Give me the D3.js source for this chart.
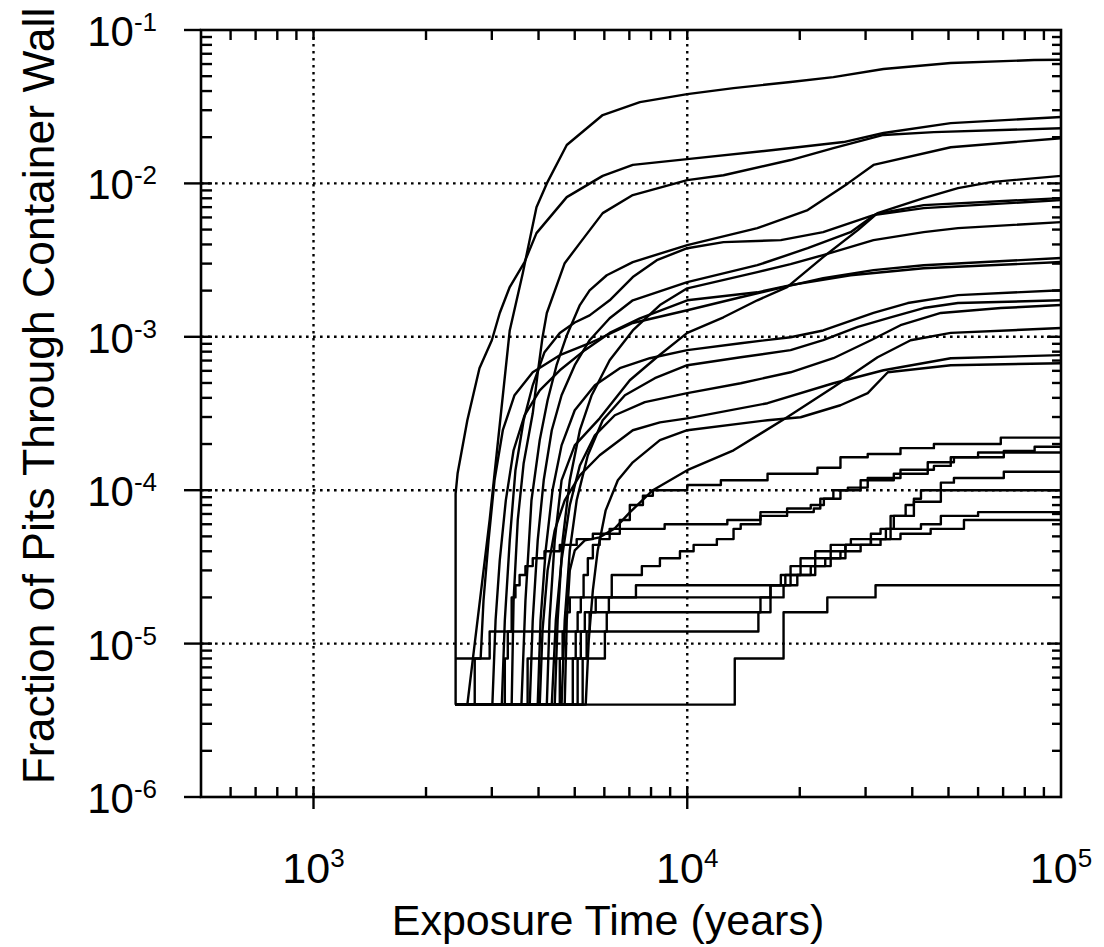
<!DOCTYPE html>
<html><head><meta charset="utf-8">
<script src="https://cdn.jsdelivr.net/npm/d3@7"></script>
<style>html,body{margin:0;padding:0;background:#fff}svg{display:block}</style>
</head><body>
<script>
// ---------- data (years, fraction) ----------
const xDomain = [500, 1e5];
const yDomain = [1e-6, 1e-1];
const xTickExps = [3, 4, 5];
const yTickExps = [-1, -2, -3, -4, -5, -6];
const xGrid = [1e3, 1e4];
const yGrid = [1e-2, 1e-3, 1e-4, 1e-5];
const xTitle = "Exposure Time (years)";
const yTitle = "Fraction of Pits Through Container Wall";

// smooth (many-pit) realizations
const c1 = [[2400,4e-6],[2580,4e-6],[2960,6.4e-5],[3350,1.1e-3],[3630,2.6e-3],[3950,7.0e-3],[4210,1.0e-2],[4760,1.78e-2],[5940,2.79e-2],[7470,3.39e-2],[10000,3.82e-2],[13300,4.18e-2],[18900,4.58e-2],[24600,4.93e-2],[33500,5.57e-2],[50700,6.09e-2],[84700,6.37e-2],[100000,6.4e-2]];
const c2 = [[2400,4e-6],[2400,9.5e-5],[2430,1.29e-4],[2580,2.86e-4],[2780,6.24e-4],[3000,9.5e-4],[3150,1.43e-3],[3350,2.11e-3],[3670,3.07e-3],[3950,4.74e-3],[4760,8.14e-3],[5940,1.12e-2],[7150,1.32e-2],[10000,1.44e-2],[17000,1.65e-2],[26200,1.86e-2],[33500,2.13e-2],[50700,2.47e-2],[100000,2.71e-2]];
const c3 = [[2400,4e-6],[3390,4e-6],[3430,1.9e-5],[3520,6.4e-5],[3650,1.5e-4],[3860,3.17e-4],[3980,5.79e-4],[4100,9.94e-4],[4210,1.43e-3],[4700,3.02e-3],[5160,4.08e-3],[5940,6.4e-3],[7150,8.39e-3],[10000,1.05e-2],[12500,1.13e-2],[18900,1.42e-2],[24600,1.70e-2],[33500,2.07e-2],[45700,2.16e-2],[100000,2.29e-2]];
const c4 = [[2400,4e-6],[3600,4e-6],[3690,1.9e-5],[3830,8.6e-5],[4030,2.12e-4],[4230,3.86e-4],[4470,6.53e-4],[4760,1.02e-3],[5160,1.61e-3],[5480,2.01e-3],[6090,2.52e-3],[7150,3.07e-3],[10000,3.96e-3],[15400,5.11e-3],[21000,6.7e-3],[26900,1.0e-2],[31500,1.32e-2],[50700,1.72e-2],[100000,1.97e-2]];
const c5 = [[2400,4e-6],[4210,4e-6],[4280,1.42e-5],[4420,4.71e-5],[4610,1.16e-4],[5000,1.96e-4],[5830,2.94e-4],[7020,5.21e-4],[8290,7.36e-4],[10000,1.06e-3],[12500,1.34e-3],[15400,1.73e-3],[18500,2.11e-3],[23100,3.31e-3],[28600,4.96e-3],[32300,6.4e-3],[42900,8.02e-3],[53000,9.32e-3],[64900,1.02e-2],[100000,1.12e-2]];
const c6 = [[2400,4e-6],[3190,4e-6],[3250,1.42e-5],[3350,4.71e-5],[3470,1.35e-4],[3650,2.86e-4],[3860,4.83e-4],[4150,7.94e-4],[4560,1.06e-3],[5000,1.24e-3],[5480,1.38e-3],[6200,1.73e-3],[7150,2.45e-3],[8290,3.16e-3],[10000,3.78e-3],[12500,4.14e-3],[17800,4.27e-3],[23100,4.81e-3],[31500,6.21e-3],[42900,6.9e-3],[100000,7.78e-3]];
const c7 = [[2400,4e-6],[3790,4e-6],[3860,1.42e-5],[3980,4.71e-5],[4130,1.16e-4],[4340,2.46e-4],[4610,4.16e-4],[5000,6.53e-4],[5480,9.5e-4],[6200,1.32e-3],[7150,1.73e-3],[10000,2.27e-3],[15400,2.93e-3],[21000,3.78e-3],[27350,4.81e-3],[31900,6.3e-3],[42900,7.22e-3],[100000,8.02e-3]];
const c8 = [[2400,4e-6],[4420,4e-6],[4500,1.42e-5],[4640,4.71e-5],[4850,1.16e-4],[5160,2.46e-4],[5550,4.16e-4],[6200,7.04e-4],[7150,1.1e-3],[8450,1.61e-3],[10000,2.07e-3],[15400,2.64e-3],[18900,2.98e-3],[23100,3.41e-3],[31500,4.27e-3],[42900,4.81e-3],[53000,5.11e-3],[100000,5.59e-3]];
const c9 = [[2400,8e-6],[2800,8e-6],[2850,1.91e-5],[2940,4.71e-5],[3050,1.16e-4],[3210,2.46e-4],[3450,4.16e-4],[3860,5.87e-4],[4560,7.59e-4],[5480,9.08e-4],[7150,1.23e-3],[10000,1.49e-3],[13900,1.81e-3],[18100,2.11e-3],[23100,2.41e-3],[31500,2.72e-3],[42900,2.93e-3],[100000,3.26e-3]];
const c10 = [[2400,4e-6],[3010,4e-6],[3070,1.42e-5],[3150,3.49e-5],[3270,8.59e-5],[3430,1.82e-4],[3670,3.08e-4],[4030,4.48e-4],[4560,6.05e-4],[5320,8.18e-4],[6200,1.06e-3],[7470,1.32e-3],[10000,1.73e-3],[15400,1.95e-3],[18900,2.17e-3],[27350,2.52e-3],[42900,2.8e-3],[100000,3.07e-3]];
const c11 = [[2400,4e-6],[3980,4e-6],[4050,1.42e-5],[4180,4.05e-5],[4360,1.0e-4],[4610,1.96e-4],[5000,3.32e-4],[5660,4.83e-4],[6600,6.24e-4],[7940,7.25e-4],[10000,8.18e-4],[13900,9.08e-4],[18900,9.94e-4],[23100,1.1e-3],[31500,1.43e-3],[38900,1.66e-3],[53000,1.87e-3],[100000,2.01e-3]];
const c12 = [[2400,4e-6],[4610,4e-6],[4700,1.42e-5],[4850,4.05e-5],[5060,8.59e-5],[5420,1.69e-4],[5940,2.86e-4],[6810,4.16e-4],[8190,5.37e-4],[10000,6.53e-4],[13900,7.36e-4],[18900,8.18e-4],[23100,9.5e-4],[28600,1.16e-3],[35000,1.34e-3],[42900,1.54e-3],[53000,1.66e-3],[100000,1.73e-3]];
const c13 = [[2400,4e-6],[4340,4e-6],[4450,1.42e-5],[4610,3.49e-5],[4850,7.97e-5],[5160,1.45e-4],[5660,2.28e-4],[6400,3.08e-4],[7700,3.75e-4],[10000,4.29e-4],[13900,4.98e-4],[18900,5.87e-4],[24600,7.25e-4],[31000,9.5e-4],[37200,1.19e-3],[47700,1.43e-3],[69000,1.54e-3],[100000,1.61e-3]];
const c14 = [[2400,4e-6],[4700,4e-6],[4760,1.42e-5],[4850,3.0e-5],[5000,4.05e-5],[5320,4.71e-5],[5830,4.93e-5],[6400,5.64e-5],[7020,7.17e-5],[8090,1.0e-4],[10000,1.35e-4],[13300,1.82e-4],[18500,2.99e-4],[24600,4.69e-4],[32300,7.36e-4],[39600,9.5e-4],[50700,1.06e-3],[100000,1.14e-3]];
const c15 = [[2400,4e-6],[4030,4e-6],[4100,1.22e-5],[4230,3.0e-5],[4420,5.48e-5],[4700,8.59e-5],[5160,1.25e-4],[5830,1.69e-4],[7150,2.46e-4],[8450,2.77e-4],[10000,2.94e-4],[16400,3.69e-4],[24600,4.98e-4],[33500,6.05e-4],[50700,7.25e-4],[100000,7.59e-4]];
const c16 = [[2400,4e-6],[5350,4e-6],[5450,1.05e-5],[5590,2.22e-5],[5760,4.05e-5],[6050,7.39e-5],[6520,1.16e-4],[7150,1.52e-4],[8450,2.12e-4],[10000,2.46e-4],[16400,2.86e-4],[20100,2.99e-4],[25700,3.58e-4],[30400,4.29e-4],[34400,5.87e-4],[50700,6.53e-4],[100000,6.73e-4]];

// stepped (few-pit) realizations
const s1 = [[2400,4e-6],[4940,8e-6],[5030,1.2e-5],[5090,1.6e-5],[5190,2e-5],[5280,2.8e-5],[5420,3.6e-5],[5590,4.4e-5],[5830,4.8e-5],[6200,5.6e-5],[6600,6.4e-5],[7020,8e-5],[7610,9.2e-5],[8090,1.0e-4],[10000,1.08e-4],[12300,1.16e-4],[16400,1.28e-4],[22300,1.4e-4],[25700,1.64e-4],[30400,1.72e-4],[37200,1.88e-4],[45700,2.0e-4],[69000,2.2e-4],[100000,2.2e-4]];
const s2 = [[2400,4e-6],[3740,8e-6],[6020,1.2e-5],[6090,1.6e-5],[6170,2e-5],[6280,2.8e-5],[7560,3.2e-5],[8450,3.6e-5],[9560,4e-5],[10400,4.4e-5],[12000,4.8e-5],[13300,5.6e-5],[13900,6e-5],[15700,6.8e-5],[18500,7.2e-5],[21800,7.6e-5],[22700,8.8e-5],[24600,1.0e-4],[26900,1.04e-4],[29100,1.16e-4],[35700,1.28e-4],[44000,1.52e-4],[51700,1.64e-4],[70300,1.8e-4],[85000,1.92e-4],[100000,1.92e-4]];
const s3 = [[2400,4e-6],[3250,8e-6],[3310,1.2e-5],[3390,2e-5],[3470,2.4e-5],[3560,2.8e-5],[3690,3.2e-5],[3860,3.6e-5],[4150,4e-5],[4560,4.4e-5],[5060,4.8e-5],[5590,5.2e-5],[6600,5.6e-5],[8700,6e-5],[12800,6.4e-5],[15700,7.2e-5],[18500,7.6e-5],[21400,8e-5],[23200,8.8e-5],[25700,1.0e-4],[29100,1.04e-4],[30400,1.2e-4],[37200,1.36e-4],[45700,1.44e-4],[50700,1.64e-4],[60000,1.76e-4],[100000,1.76e-4]];
const s4 = [[2400,4e-6],[5250,8e-6],[5380,1.2e-5],[5480,1.6e-5],[5690,2e-5],[7290,2.4e-5],[18900,2.8e-5],[22000,3.2e-5],[24200,3.6e-5],[26500,4.4e-5],[31000,4.8e-5],[34000,5.6e-5],[35700,6.8e-5],[38400,8e-5],[40400,8.8e-5],[42200,1.0e-4],[47700,1.12e-4],[51700,1.2e-4],[70300,1.32e-4],[100000,1.32e-4]];
const s5 = [[2400,4e-6],[5090,8e-6],[5190,1.2e-5],[5320,1.6e-5],[15700,2e-5],[16700,2.4e-5],[17800,2.8e-5],[18900,3.2e-5],[20100,3.6e-5],[22000,4e-5],[24200,4.4e-5],[27400,4.8e-5],[31000,5.2e-5],[32900,5.6e-5],[35000,6.8e-5],[40400,8.4e-5],[47700,1.0e-4],[100000,1.0e-4]];
const s6 = [[2400,4e-6],[4560,8e-6],[4640,1.2e-5],[4730,1.6e-5],[4850,2e-5],[16700,2.4e-5],[18300,2.8e-5],[20100,3.2e-5],[22000,3.6e-5],[24200,4e-5],[26500,4.4e-5],[31000,4.8e-5],[35000,5.6e-5],[42200,6e-5],[47700,6.8e-5],[60000,7.2e-5],[100000,7.2e-5]];
const s7 = [[2400,4e-6],[2700,8e-6],[2960,1.2e-5],[15500,1.6e-5],[16700,2e-5],[18100,2.4e-5],[19700,2.8e-5],[21400,3.2e-5],[23400,3.6e-5],[25700,4e-5],[29100,4.4e-5],[32900,4.8e-5],[37200,5.2e-5],[44800,5.6e-5],[55000,6.4e-5],[100000,6.4e-5]];
const s8 = [[2400,4e-6],[13400,8e-6],[18100,1.6e-5],[23700,2e-5],[31900,2.4e-5],[100000,2.4e-5]];

const smoothCurves = [c1,c2,c3,c4,c5,c6,c7,c8,c9,c10,c11,c12,c13,c14,c15,c16];
const stepCurves = [s1,s2,s3,s4,s5,s6,s7,s8];

// ---------- drawing ----------
const FONT = "'Liberation Sans', Arial, Helvetica, sans-serif";
const Lp = 201, Rp = 1061, Tp = 30, Bp = 797;
const svg = d3.select("body").append("svg").attr("width", 1104).attr("height", 947)
  .style("background", "#fff");
const x = d3.scaleLog().domain(xDomain).range([Lp, Rp]);
const y = d3.scaleLog().domain(yDomain).range([Bp, Tp]);

// grid
const g = svg.append("g");
g.selectAll(".gx").data(xGrid).join("line")
  .attr("x1", d => x(d)).attr("x2", d => x(d)).attr("y1", Tp).attr("y2", Bp)
  .attr("stroke", "#000").attr("stroke-width", 2.4).attr("stroke-dasharray", "2.6,4.4");
g.selectAll(".gy").data(yGrid).join("line")
  .attr("x1", Lp).attr("x2", Rp).attr("y1", d => y(d)).attr("y2", d => y(d))
  .attr("stroke", "#000").attr("stroke-width", 2.4).attr("stroke-dasharray", "2.6,4.4");

// curves
const lineSmooth = d3.line().x(d => x(d[0])).y(d => y(d[1]));
const lineStep = d3.line().x(d => x(d[0])).y(d => y(d[1])).curve(d3.curveStepAfter);
const cg = svg.append("g").attr("fill", "none").attr("stroke", "#000")
  .attr("stroke-width", 2.4).attr("stroke-linejoin", "round");
stepCurves.forEach(c => cg.append("path").attr("d", lineStep(c)));
smoothCurves.forEach(c => cg.append("path").attr("d", lineSmooth(c)));

// ticks
const tg = svg.append("g").attr("stroke", "#000").attr("stroke-width", 2.4);
const isMajor = v => Math.abs(Math.log10(v) - Math.round(Math.log10(v))) < 1e-9;
const xt = x.ticks().filter(v => v > xDomain[0] && v < xDomain[1]);
const yt = y.ticks().filter(v => v > yDomain[0] && v < yDomain[1]);
xt.forEach(v => {
  const px = x(v);
  const len = 10;
  tg.append("line").attr("x1", px).attr("x2", px).attr("y1", Bp).attr("y2", Bp - len);
  tg.append("line").attr("x1", px).attr("x2", px).attr("y1", Tp).attr("y2", Tp + len);
  if (isMajor(v)) tg.append("line").attr("x1", px).attr("x2", px).attr("y1", Bp).attr("y2", Bp + 12);
});
yt.forEach(v => {
  const py = y(v);
  const major = isMajor(v);
  tg.append("line").attr("x1", Lp).attr("x2", Lp + 11).attr("y1", py).attr("y2", py);
  tg.append("line").attr("x1", Rp).attr("x2", Rp - (major ? 14 : 9)).attr("y1", py).attr("y2", py);
});
yTickExps.forEach(e => {
  const py = y(Math.pow(10, e));
  tg.append("line").attr("x1", Lp - 17).attr("x2", Lp).attr("y1", py).attr("y2", py);
});

// frame
svg.append("rect").attr("x", Lp).attr("y", Tp).attr("width", Rp - Lp).attr("height", Bp - Tp)
  .attr("fill", "none").attr("stroke", "#000").attr("stroke-width", 2.6);

// tick labels
xTickExps.forEach(e => {
  const t = svg.append("text").attr("x", x(Math.pow(10, e))).attr("y", 883)
    .attr("text-anchor", "middle").attr("font-family", FONT).attr("font-size", 43).attr("fill", "#000");
  t.append("tspan").text("10");
  t.append("tspan").attr("dy", -16).attr("font-size", 26).text(String(e));
});
yTickExps.forEach(e => {
  const t = svg.append("text").attr("x", 157).attr("y", y(Math.pow(10, e)) + 16)
    .attr("text-anchor", "end").attr("font-family", FONT).attr("font-size", 42).attr("fill", "#000");
  t.append("tspan").text("10");
  t.append("tspan").attr("dy", -15).attr("font-size", 26).text("-" + Math.abs(e));
});

// axis titles
svg.append("text").attr("x", 608).attr("y", 935).attr("text-anchor", "middle")
  .attr("font-family", FONT).attr("font-size", 43).attr("fill", "#000").text(xTitle);
svg.append("text").attr("transform", "translate(54,396) rotate(-90)").attr("text-anchor", "middle")
  .attr("font-family", FONT).attr("font-size", 44.5).attr("fill", "#000").text(yTitle);
</script>
</body></html>
